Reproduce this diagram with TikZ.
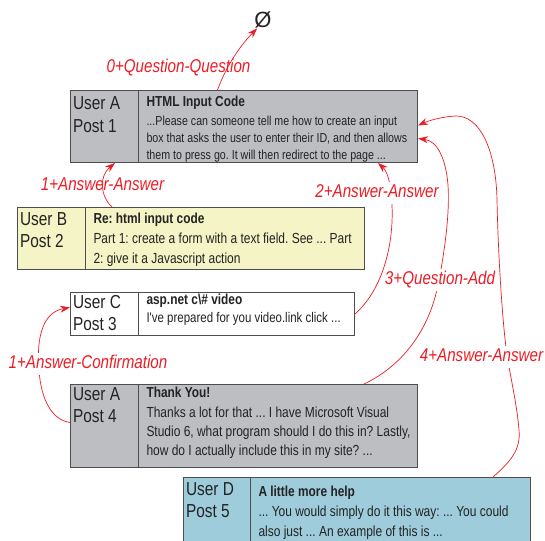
\documentclass[tikz,border=0pt]{standalone}
\usepackage{fontspec}
\setmainfont{Liberation Sans}
\newfontfamily\narrow[FakeStretch=0.82]{Liberation Sans}
\usetikzlibrary{arrows.meta}
\frenchspacing

\definecolor{postgray}{RGB}{189,190,194}
\definecolor{postyellow}{RGB}{244,244,198}
\definecolor{postblue}{RGB}{158,204,219}
\definecolor{rim}{RGB}{77,77,79}
\definecolor{ink}{RGB}{35,35,35}
\definecolor{linkred}{RGB}{237,28,36}

\newcommand{\userfont}{\narrow\fontsize{18.8}{22.5}\selectfont}
\newcommand{\titlefont}{\narrow\bfseries\fontsize{14.5}{17}\selectfont}
\newcommand{\bodyfont}{\narrow\fontsize{14.6}{19}\selectfont}
\newcommand{\linkfont}{\narrow\itshape\fontsize{18.5}{20}\selectfont}

% left cell: width, height, top gap, text
\newcommand{\who}[4]{\hspace*{2.5pt}\parbox[t][#2][t]{\dimexpr#1-2.5pt\relax}{\vspace*{#3}\userfont #4}}
% right cell: width, height, top gap, title-body gap, line skip, title, body
\newcommand{\said}[7]{\hspace*{8pt}\parbox[t][#2][t]{\dimexpr#1-8pt\relax}{\rightskip=-20pt plus 1fil
  \vspace*{#3}{\titlefont #6\par}%
  \vspace{\dimexpr#4-#5\relax}\bodyfont\baselineskip=#5\relax #7\par}}

\begin{document}
\begin{tikzpicture}[x=1pt,y=-1pt,>={Stealth[length=10pt,width=7pt]},
  cell/.style={draw=rim,line width=1pt,fill=#1,anchor=north west,inner sep=0pt,text=ink},
  link/.style={draw=linkred,line width=0.7pt},
  tag/.style={text=linkred,font=\linkfont,inner xsep=1pt,inner ysep=2.5pt,text height=13.5pt,text depth=4pt},
  tagbg/.style={tag,fill=white}]
  \useasboundingbox (0,0) rectangle (545,540);

  % the five posts
  \node[cell=postgray] (u1) at (70,90) {\who{68pt}{72pt}{6.5pt}{User A\\Post 1}};
  \node[cell=postgray] (r1) at (138,90) {\said{279pt}{72pt}{5.5pt}{19pt}{17pt}{HTML Input Code}%
    {\fontsize{13}{17}\selectfont ...Please can someone tell me how to create an input\\box that asks the user to enter their ID, and then allows\\them to press go. It will then redirect to the page ...}};
  \node[cell=postyellow] (u2) at (17,207) {\who{68pt}{62pt}{5pt}{User B\\Post 2}};
  \node[cell=postyellow] (r2) at (85,207) {\said{279pt}{62pt}{5.5pt}{20pt}{20pt}{Re: html input code}%
    {Part 1: create a form with a text field. See ... Part\\2: give it a Javascript action}};
  \node[cell=white] (u3) at (70,292) {\who{68pt}{43pt}{2.5pt}{User C\\Post 3}};
  \node[cell=white] (r3) at (138,292) {\said{216pt}{43pt}{1.5pt}{17.5pt}{17.5pt}{asp.net c\textbackslash\# video}%
    {\fontsize{14}{17.5}\selectfont I've prepared for you video.link click ...}};
  \node[cell=postgray] (u4) at (70,384) {\who{68pt}{83pt}{3pt}{User A\\Post 4}};
  \node[cell=postgray] (r4) at (138,384) {\said{279pt}{83pt}{2pt}{20pt}{19pt}{Thank You!}%
    {Thanks a lot for that ... I have Microsoft Visual\\Studio 6, what program should I do this in? Lastly,\\how do I actually include this in my site? ...}};
  \node[cell=postblue] (u5) at (183,477) {\who{67pt}{65pt}{5pt}{User D\\Post 5}};
  \node[cell=postblue] (r5) at (250,477) {\said{280pt}{65pt}{8pt}{20.5pt}{20pt}{A little more help}%
    {... You would simply do it this way: ... You could\\also just ... An example of this is ...}};

  \node[font=\fontsize{22}{22}\selectfont,text=ink,inner sep=0pt] (void) at (263,20) {Ø};

  % links between posts
  \draw[link,->] ([xshift=-60.5pt]r1.north) .. controls (224,72) and (236,50) .. (void.-125);
  \draw[link,->] ([xshift=27pt]r2.north west) .. controls (100,196) and (99,176) .. ([xshift=45pt]u1.south west);
  \draw[link,->] (r3.east) .. controls (380,292) and (394,250) .. (392,205)
    .. controls (391,185) and (388,172) .. ([xshift=-40pt]r1.south east);
  \draw[link,->] ([xshift=-54pt]r4.north east) .. controls (398,368) and (428,335) .. (438,285)
    .. controls (444,255) and (450,215) .. (448,185) .. controls (446,160) and (438,141) .. ([yshift=-12pt]r1.east);
  \draw[link,->] ([xshift=-38pt]r5.north east) .. controls (510,462) and (521,450) .. (519,430)
    .. controls (517,405) and (511,380) .. (507,355) .. controls (502,320) and (498,250) .. (497,200)
    .. controls (496,150) and (480,115) .. (455,116) .. controls (440,117) and (428,121) .. ([yshift=1pt]r1.east);
  \draw[link,->] ([yshift=3.5pt]u4.west) .. controls (52,420) and (41,400) .. (39,370)
    .. controls (36,335) and (44,312) .. ([yshift=6.5pt]u3.west);

  % link labels
  \node[tag] (q0) at (178.5,68) {0+Question-Question};
  \node[tag] (a1) at (102.5,186) {1+Answer-Answer};
  \node[tagbg] (a2) at (377,193) {2+Answer-Answer};
  \node[tagbg] (q3) at (440,280) {3+Question-Add};
  \node[tagbg] (a4) at (481.5,357) {4+Answer-Answer};
  \node[tagbg] (c5) at (88,364) {1+Answer-Confirmation};
\end{tikzpicture}
\end{document}
